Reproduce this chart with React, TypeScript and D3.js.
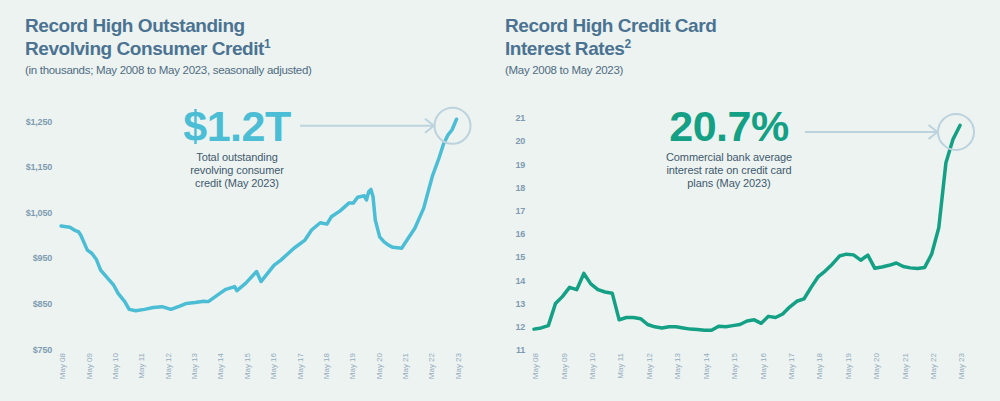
import React from "react";
import * as d3 from "d3";

const W = 1000;
const H = 401;

// Revolving consumer credit (billions, shown as "in thousands" in source)
const creditDates = [
  "2008-05", "2008-09", "2008-11", "2009-01", "2009-02", "2009-05", "2009-07", "2009-09", "2009-11",
  "2010-03", "2010-05", "2010-07", "2010-10", "2010-12", "2011-03", "2011-07", "2011-11", "2012-03",
  "2012-07", "2012-11", "2013-02", "2013-06", "2013-10", "2013-12", "2014-05", "2014-08", "2014-12",
  "2015-01", "2015-05", "2015-10", "2015-12", "2016-03", "2016-06", "2016-09", "2017-03", "2017-08",
  "2017-11", "2018-03", "2018-06", "2018-08", "2018-12", "2019-04", "2019-06", "2019-08", "2019-11",
  "2019-12", "2020-01", "2020-02", "2020-03", "2020-04", "2020-06", "2020-08", "2020-10", "2020-12",
  "2021-04", "2021-07", "2021-10", "2022-02", "2022-04", "2022-06", "2022-09", "2022-11", "2023-01",
  "2023-03", "2023-05",
];
const creditValues = [
  1021, 1018, 1012, 1008, 1000, 968, 961, 948, 924,
  902, 891, 873, 855, 838, 835, 838, 842, 844,
  838, 845, 851, 853, 856, 855, 872, 882, 888,
  879, 895, 921, 899, 917, 935, 946, 972, 990,
  1012, 1028, 1025, 1041, 1054, 1071, 1071, 1084, 1087,
  1078, 1096, 1101, 1085, 1034, 997, 986, 979, 974,
  972, 994, 1016, 1060, 1095, 1130, 1170, 1200, 1220,
  1232, 1255,
];

// Commercial bank interest rate on credit card plans (%), quarterly
const rateDates = [
  "2008-05", "2008-08", "2008-11", "2009-02", "2009-05", "2009-08", "2009-11", "2010-02", "2010-05",
  "2010-08", "2010-11", "2011-02", "2011-05", "2011-08", "2011-11", "2012-02", "2012-05", "2012-08",
  "2012-11", "2013-02", "2013-05", "2013-08", "2013-11", "2014-02", "2014-05", "2014-08", "2014-11",
  "2015-02", "2015-05", "2015-08", "2015-11", "2016-02", "2016-05", "2016-08", "2016-11", "2017-02",
  "2017-05", "2017-08", "2017-11", "2018-02", "2018-05", "2018-08", "2018-11", "2019-02", "2019-05",
  "2019-08", "2019-11", "2020-02", "2020-05", "2020-08", "2020-11", "2021-02", "2021-05", "2021-08",
  "2021-11", "2022-02", "2022-05", "2022-08", "2022-11", "2023-02", "2023-05",
];
const rateValues = [
  11.9, 11.95, 12.05, 13.0, 13.3, 13.7, 13.6, 14.3, 13.85,
  13.6, 13.5, 13.45, 12.3, 12.4, 12.4, 12.35, 12.1, 12.0,
  11.95, 12.0, 12.0, 11.95, 11.9, 11.88, 11.85, 11.85, 12.02,
  12.0, 12.05, 12.1, 12.25, 12.3, 12.15, 12.45, 12.4, 12.55,
  12.85, 13.1, 13.2, 13.7, 14.15, 14.4, 14.7, 15.05, 15.13,
  15.1, 14.87, 15.09, 14.52, 14.58, 14.65, 14.75, 14.6, 14.54,
  14.51, 14.56, 15.13, 16.27, 19.07, 20.09, 20.68,
];

const creditTicks = [750, 850, 950, 1050, 1150, 1250];
const rateTicks = [11, 12, 13, 14, 15, 16, 17, 18, 19, 20, 21];
const tickDates = [
  "2008-05", "2009-05", "2010-05", "2011-05", "2012-05", "2013-05", "2014-05", "2015-05",
  "2016-05", "2017-05", "2018-05", "2019-05", "2020-05", "2021-05", "2022-05", "2023-05",
];

const FONT = "'Liberation Sans', Arial, Helvetica, sans-serif";
const BG = "#edf3f1";
const TITLE_C = "#4b7391";
const SUB_C = "#4f6c82";
const AXIS_C = "#7f9bb2";
const XLAB_C = "#93abbd";
const ANNO_C = "#3f5a6e";
const GUIDE_C = "#bcd3de";
const CREDIT_C = "#4bbdd4";
const RATE_C = "#14a084";

const parse = d3.timeParse("%Y-%m");
const fmtTick = d3.timeFormat("%b %y");

type Panel = {
  dates: string[];
  values: number[];
  ticks: number[];
  tickFmt: (v: number) => string;
  xRange: [number, number];
  yDomain: [number, number];
  yRange: [number, number];
  yLabelX: number;
  color: string;
  titleX: number;
  title1: string;
  title2: string;
  sup: string;
  subtitle: string;
  big: string;
  annoX: number;
  annoLines: string[];
  arrowStart: number;
};

const panels: Panel[] = [
  {
    dates: creditDates,
    values: creditValues,
    ticks: creditTicks,
    tickFmt: d3.format("$,"),
    xRange: [61, 456.5],
    yDomain: [750, 1250],
    yRange: [349.5, 121.5],
    yLabelX: 52,
    color: CREDIT_C,
    titleX: 25,
    title1: "Record High Outstanding",
    title2: "Revolving Consumer Credit",
    sup: "1",
    subtitle: "(in thousands; May 2008 to May 2023, seasonally adjusted)",
    big: "$1.2T",
    annoX: 237,
    annoLines: ["Total outstanding", "revolving consumer", "credit (May 2023)"],
    arrowStart: 300,
  },
  {
    dates: rateDates,
    values: rateValues,
    ticks: rateTicks,
    tickFmt: d3.format("d"),
    xRange: [534, 960],
    yDomain: [11, 21],
    yRange: [350, 118],
    yLabelX: 525,
    color: RATE_C,
    titleX: 505,
    title1: "Record High Credit Card",
    title2: "Interest Rates",
    sup: "2",
    subtitle: "(May 2008 to May 2023)",
    big: "20.7%",
    annoX: 729,
    annoLines: ["Commercial bank average", "interest rate on credit card", "plans (May 2023)"],
    arrowStart: 805,
  },
];

function ChartPanel({ p }: { p: Panel }) {
  const x = d3
    .scaleTime()
    .domain([parse(tickDates[0]) as Date, parse(tickDates[tickDates.length - 1]) as Date])
    .range(p.xRange);
  const y = d3.scaleLinear().domain(p.yDomain).range(p.yRange);
  const pts = p.dates.map((d, i) => ({ d: parse(d) as Date, v: p.values[i] }));
  const line = d3
    .line<{ d: Date; v: number }>()
    .x((q) => x(q.d))
    .y((q) => y(q.v));
  const last = pts[pts.length - 1];
  const lx = x(last.d);
  const ly = y(last.v);
  const cx = lx - 4;
  const cy = ly + 6.5;
  const r = 18;
  const tip = cx - r - 0.5;

  return (
    <g fontFamily={FONT}>
      {/* Titles */}
      <text x={p.titleX} y={32} fontSize={19} fontWeight="bold" fill={TITLE_C} letterSpacing={-0.45}>
        {p.title1}
      </text>
      <text x={p.titleX} y={55} fontSize={19} fontWeight="bold" fill={TITLE_C} letterSpacing={-0.45}>
        {p.title2}
        <tspan fontSize={12} dy={-7}>
          {p.sup}
        </tspan>
      </text>
      <text x={p.titleX} y={74} fontSize={11.5} fill={SUB_C} letterSpacing={-0.3}>
        {p.subtitle}
      </text>

      {/* Y labels */}
      {p.ticks.map((t) => (
        <text
          key={t}
          x={p.yLabelX}
          y={y(t)}
          dy="0.35em"
          textAnchor="end"
          fontSize={9}
          fontWeight="bold"
          fill={AXIS_C}
          letterSpacing={-0.2}
        >
          {p.tickFmt(t)}
        </text>
      ))}

      {/* X labels */}
      {tickDates.map((t) => {
        const xx = x(parse(t) as Date) + 1.5;
        return (
          <text
            key={t}
            transform={`translate(${xx},353) rotate(-90)`}
            dy="0.35em"
            textAnchor="end"
            fontSize={8}
            fill={XLAB_C}
          >
            {fmtTick(parse(t) as Date)}
          </text>
        );
      })}

      {/* Line */}
      <path
        d={line(pts) || ""}
        fill="none"
        stroke={p.color}
        strokeWidth={3.5}
        strokeLinejoin="round"
        strokeLinecap="round"
      />

      {/* Annotation */}
      <circle cx={cx} cy={cy} r={r} fill="none" stroke={GUIDE_C} strokeWidth={2} />
      <line x1={p.arrowStart} x2={tip} y1={cy} y2={cy} stroke={GUIDE_C} strokeWidth={2} />
      <polyline
        points={`${tip - 9},${cy - 7} ${tip},${cy} ${tip - 9},${cy + 7}`}
        fill="none"
        stroke={GUIDE_C}
        strokeWidth={2}
      />
      <text x={p.annoX} y={141} textAnchor="middle" fontSize={43} fontWeight="bold" fill={p.color} letterSpacing={-0.5}>
        {p.big}
      </text>
      {p.annoLines.map((l, i) => (
        <text key={i} x={p.annoX} y={161 + i * 13} textAnchor="middle" fontSize={11} fill={ANNO_C} letterSpacing={-0.1}>
          {l}
        </text>
      ))}
    </g>
  );
}

export default function App() {
  return (
    <div style={{ position: "absolute", left: 0, top: 0, width: W, height: H, background: BG }}>
      <svg width={W} height={H} viewBox={`0 0 ${W} ${H}`} style={{ display: "block" }}>
        <rect x={0} y={0} width={W} height={H} fill={BG} />
        {panels.map((p, i) => (
          <ChartPanel key={i} p={p} />
        ))}
      </svg>
    </div>
  );
}
